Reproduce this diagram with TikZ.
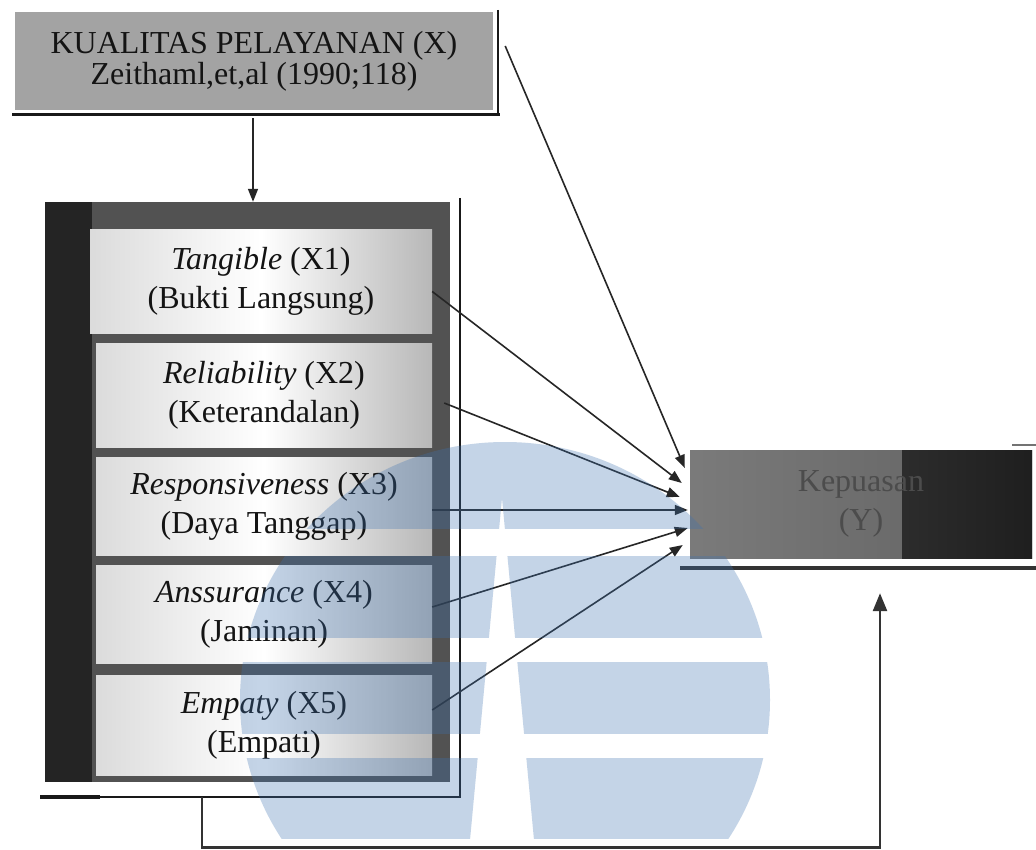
\documentclass[tikz,border=0pt]{standalone}
\usepackage{fontspec}
\setmainfont{Liberation Serif}
\usetikzlibrary{arrows.meta,calc}
\definecolor{ink}{HTML}{141414}
\definecolor{wm}{RGB}{62,115,178}
\begin{document}
\begin{tikzpicture}[x=1pt,y=-1pt,
  txt/.style={font=\fontsize{32}{39}\selectfont, text=ink, align=center, inner sep=0pt},
  dimbox/.style={txt, minimum width=336pt, left color=black!14, right color=black!28, middle color=white},
  arr/.style={draw=black!85, line width=1.6pt, -{Triangle[length=13pt,width=10pt]}},
  shadowline/.style={draw=black!90, line width=2pt},
  wmband/.style={fill=wm, fill opacity=0.3, even odd rule}]
\useasboundingbox (0,0) rectangle (1036,850);
\fill[white] (0,0) rectangle (1036,850);

% top box
\node[txt, font=\fontsize{32}{31}\selectfont, fill=black!36, minimum width=478pt, minimum height=98pt] (kp) at (254,61)
  {KUALITAS PELAYANAN (X)\\Zeithaml,et,al (1990;118)};
\draw[shadowline] (498,10) -- (498,115);
\draw[shadowline, line width=3pt] (12,115) -- (499.5,115);

% left frame
\node[fill=black!68, minimum width=405pt, minimum height=580pt, inner sep=0pt] (frame) at (247.5,492) {};
\fill[black!86] (45,202) rectangle (92,782);
\draw[shadowline] (460,198) -- (460,797) -- (40,797);
\draw[shadowline, line width=4pt] (40,797) -- (100,797);

% dimension boxes
\node[dimbox, minimum width=342pt, minimum height=103pt] (b1) at (261,281.5) {\textit{Tangible} (X1)\\(Bukti Langsung)};
\node[dimbox, minimum height=104pt] (b2) at (264,395) {\textit{Reliability} (X2)\\(Keterandalan)};
\node[dimbox, minimum height=98pt] (b3) at (264,506) {\textit{Responsiveness} (X3)\\(Daya Tanggap)};
\node[dimbox, minimum height=98pt] (b4) at (264,614) {\textit{Anssurance} (X4)\\(Jaminan)};
\node[dimbox, minimum height=100pt] (b5) at (264,725) {\textit{Empaty} (X5)\\(Empati)};

% right box
\node[txt, text=black!70, minimum width=342pt, minimum height=108pt, left color=black!52, right color=black!62,
  path picture={\fill[left color=black!74, right color=black!88] ([xshift=-130pt]path picture bounding box.north east) rectangle (path picture bounding box.south east);}]
  (kep) at (861,504) {Kepuasan\\(Y)};
\draw[draw=black!80, line width=4pt] (680,568) -- (1036,568);
\draw[draw=black!55, line width=1.5pt] (1012,445) -- (1036,445);

% connectors
\draw[arr] ([xshift=-1pt,yshift=-8pt]kp.south) -- ([xshift=-1pt]kp.south |- frame.north);
\draw[arr] ([xshift=12pt,yshift=15pt]kp.east) -- ([xshift=-5pt,yshift=36pt]kep.west);
\draw[arr] ([yshift=-10pt]b1.east) -- ([xshift=-8pt,yshift=21pt]kep.west);
\draw[arr] ([xshift=12pt,yshift=-8pt]b2.east) -- ([xshift=-10pt,yshift=7pt]kep.west);
\draw[arr] ([yshift=-4pt]b3.east) -- ([xshift=-2pt,yshift=-6pt]kep.west);
\draw[arr] ([yshift=7pt]b4.east) -- ([xshift=-2pt,yshift=-24pt]kep.west);
\draw[arr] ([yshift=15pt]b5.east) -- ([xshift=-7pt,yshift=-41pt]kep.west);
\draw[draw=black!80, line width=2.6pt, -{Triangle[length=18pt,width=14pt]}]
  ([xshift=-45.5pt,yshift=-15pt]frame.south) -- ++(0,50) -| ([xshift=19pt,yshift=-35pt]kep.south);

% watermark
\foreach \ya/\yb in {440/528, 556/637, 662/733, 758/838}{
  \begin{scope}
    \clip (200,\ya) rectangle (800,\yb);
    \path[wmband] (505,700) ellipse [x radius=265, y radius=258]
      (502,498) -- (470,840) -- (534,840) -- cycle;
  \end{scope}
}
\end{tikzpicture}
\end{document}
